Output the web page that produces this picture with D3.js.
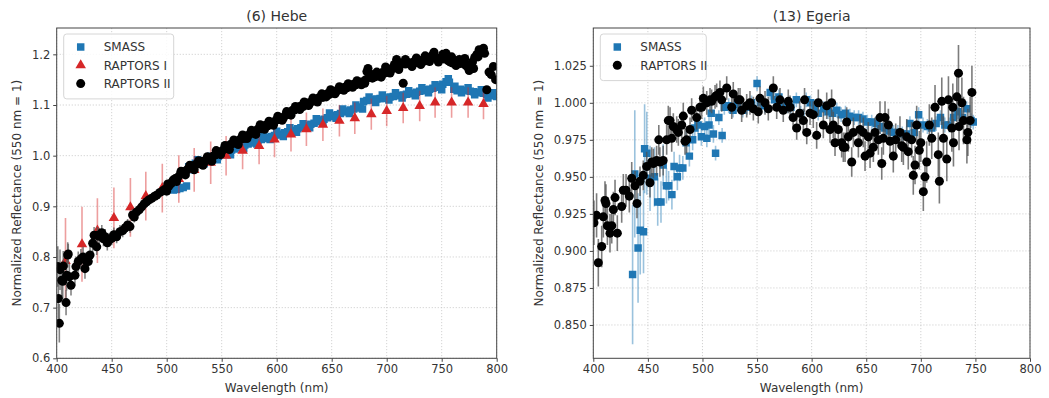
<!DOCTYPE html>
<html>
<head>
<meta charset="utf-8">
<script src="https://cdn.jsdelivr.net/npm/d3@7"></script>
<style>
  body { margin: 0; background: #fff; }
  svg text { font-family: "DejaVu Sans", sans-serif; fill: #333; }
</style>
</head>
<body>
<svg id="chart" width="1049" height="398"></svg>
<script>
// ---- data (wavelength nm, normalized reflectance, error) ----
const xTicks = [400, 450, 500, 550, 600, 650, 700, 750, 800];
const hebeYTicks = [0.6, 0.7, 0.8, 0.9, 1.0, 1.1, 1.2];
const egeriaYTicks = [0.850, 0.875, 0.900, 0.925, 0.950, 0.975, 1.000, 1.025];

const hebeSmass = [
  [506,0.932],[509,0.933],[512,0.935],[515,0.937],[518,0.940],[520,0.978],[523,0.982],[526,0.985],
  [529,0.986],[532,0.988],[535,0.990],[538,0.992],[541,0.994],[544,0.996],[547,0.999],[550,1.002],
  [553,1.005],[556,1.008],[559,1.011],[562,1.013],[565,1.016],[568,1.018],[571,1.021],[574,1.023],
  [577,1.025],[580,1.027],[583,1.030],[586,1.032],[589,1.034],[592,1.036],[595,1.038],[598,1.040],
  [601,1.041],[604,1.043],[607,1.045],[610,1.047],[613,1.049],[616,1.050],[619,1.053],[622,1.055],
  [625,1.057],[628,1.059],[631,1.062],[634,1.064],[637,1.067],[640,1.070],[643,1.072],[646,1.075],
  [649,1.077],[652,1.079],[655,1.081],[658,1.083],[661,1.086],[664,1.088],[667,1.090],[670,1.092],
  [673,1.094],[676,1.096],[679,1.107],[682,1.109],[685,1.110],[688,1.111],[691,1.112],[694,1.113],
  [697,1.113],[700,1.114],[703,1.116],[706,1.117],[709,1.118],[712,1.119],[715,1.120],[718,1.121],
  [721,1.122],[724,1.123],[727,1.125],[730,1.127],[733,1.128],[736,1.130],[739,1.131],[742,1.133],
  [745,1.135],[748,1.137],[751,1.141],[754,1.146],[757,1.145],[761,1.131],[764,1.128],[767,1.131],
  [770,1.129],[773,1.128],[776,1.127],[779,1.126],[782,1.125],[785,1.124],[788,1.123],[791,1.121],
  [794,1.120],[797,1.118],[800,1.117],
  [522,0.972],[528,0.992],[534,0.984],[540,0.999],[546,0.992],[552,1.010],[558,1.002],[564,1.020],
  [570,1.014],[576,1.031],[582,1.023],[588,1.040],[594,1.032],[600,1.048],[606,1.038],[612,1.055],
  [618,1.046],[624,1.063],[630,1.055],[636,1.073],[642,1.066],[648,1.084],[654,1.074],[660,1.092],
  [666,1.083],[672,1.100],[678,1.092],[684,1.116],[690,1.105],[696,1.120],[702,1.110],[708,1.124],
  [714,1.114],[720,1.128],[726,1.118],[732,1.134],[738,1.124],[744,1.140],[750,1.130],[756,1.152],
  [762,1.137],[768,1.124],[774,1.134],[780,1.120],[786,1.130],[792,1.114],[798,1.124]
];

const hebeRaptors1 = [
  [408,0.792,0.085],[423,0.825,0.074],[437,0.852,0.064],[452,0.877,0.060],[467,0.898,0.058],
  [481,0.920,0.048],[496,0.936,0.048],[511,0.954,0.047],[525,0.972,0.043],[540,0.986,0.042],
  [554,1.000,0.039],[569,1.010,0.037],[584,1.019,0.036],[598,1.032,0.035],[613,1.042,0.034],
  [627,1.052,0.033],[642,1.061,0.032],[657,1.069,0.031],[671,1.074,0.031],[686,1.082,0.031],
  [700,1.088,0.030],[715,1.094,0.030],[730,1.098,0.030],[744,1.105,0.030],[759,1.105,0.030],
  [774,1.105,0.030],[788,1.102,0.030]
];

const hebeRaptors2 = [
  [401,0.781,0.040],[401.5,0.718,0.040],[402.4,0.669,0.038],[403,0.775,0.040],[404.5,0.754,0.035],
  [405.5,0.752,0.035],[406,0.782,0.030],[408.5,0.710,0.025],[409,0.764,0.030],[410,0.804,0.025],
  [410.5,0.806,0.020],[411.5,0.761,0.025],[413,0.744,0.020],[416.6,0.764,0.020],[417.5,0.781,0.020],
  [419.6,0.791,0.020],[422,0.796,0.020],[424,0.800,0.020],[425.7,0.777,0.020],[427,0.792,0.018],
  [428.7,0.791,0.018],[430.3,0.804,0.018],[432.7,0.827,0.018],[434,0.843,0.016],[436.4,0.820,0.016],
  [437,0.843,0.016],[438.7,0.841,0.016],[441,0.848,0.015],[442.5,0.836,0.015],[444,0.840,0.015],
  [446,0.828,0.015],[448,0.834,0.014],[450,0.837,0.014],[452,0.844,0.014],[454.5,0.840,0.013],
  [457.5,0.850,0.013],[460,0.852,0.013],[462,0.857,0.012],[464.5,0.863,0.012],[466.6,0.860,0.012],
  [469,0.883,0.012],[470.5,0.879,0.011],[472.7,0.889,0.011],[475,0.893,0.011],[477.3,0.899,0.011],
  [479.6,0.905,0.010],[481.8,0.909,0.010],[484,0.913,0.010],[486.4,0.916,0.010],[489,0.920,0.010],
  [491,0.922,0.010],[493.5,0.927,0.009],[496,0.930,0.009],[498,0.933,0.009],
  [500,0.930],[502,0.940],[504,0.945],[506,0.952],[508,0.955],[510,0.957],[512,0.962],[514,0.966],
  [516,0.968],[518,0.971],[520,0.975],[522,0.978],[524,0.977],[526,0.982],[528,0.984],[530,0.984],
  [532,0.989],[534,0.987],[536,0.991],[538,0.995],[540,0.994],[542,0.999],[544,1.001],[546,1.004],
  [548,1.007],[550,1.008],[552,1.013],[554,1.015],[556,1.017],[558,1.022],[560,1.024],[562,1.027],
  [564,1.026],[566,1.031],[568,1.035],[570,1.034],[572,1.039],[574,1.040],[576,1.043],[578,1.047],
  [580,1.046],[582,1.051],[584,1.054],[586,1.053],[588,1.058],[590,1.060],[592,1.059],[594,1.064],
  [596,1.066],[598,1.067],[600,1.071],[602,1.072],[604,1.075],[606,1.074],[608,1.080],[610,1.082],
  [612,1.085],[614,1.089],[616,1.090],[618,1.094],[620,1.096],[622,1.098],[624,1.097],[626,1.102],
  [628,1.104],[630,1.103],[632,1.108],[634,1.110],[636,1.109],[638,1.114],[640,1.116],[642,1.115],
  [644,1.120],[646,1.122],[648,1.121],[650,1.125],[652,1.127],[654,1.126],[656,1.130],[658,1.131],
  [660,1.133],[662,1.135],[664,1.134],[666,1.138],[668,1.139],[670,1.141],[672,1.140],[674,1.143],
  [676,1.144],[678,1.146],[680,1.143],[682,1.166],[684,1.162],[686,1.158],[688,1.160],[690,1.156],
  [692,1.159],[694,1.161],[696,1.164],[698,1.163],[700,1.168],[702,1.170],[704,1.169],[706,1.174],
  [708,1.176],[709,1.190],[711,1.178],[713,1.180],[715,1.143],[717,1.181],[719,1.184],[721,1.183],
  [723,1.182],[725,1.186],[727,1.184],[729,1.188],[731,1.186],[733,1.189],[735,1.187],[737,1.191],
  [739,1.193],[741,1.197],[742,1.199],[744,1.195],[746,1.192],[748,1.190],[750,1.193],[752,1.191],
  [754,1.202],[756,1.187],[758,1.185],[760,1.183],[762,1.187],[764,1.186],[766,1.190],[768,1.184],
  [770,1.187],[772,1.178],[774,1.174],[776,1.180],[778,1.185],[780,1.194],[782,1.200],[784,1.209],
  [786,1.206],[788,1.212],[789,1.202],[791,1.130],[793,1.165],[795,1.160],[797,1.176],[799,1.150],
  [501,0.944],[505,0.948],[509,0.949],[513,0.969],[517,0.962],[521,0.981],[525,0.972],[529,0.990],
  [533,0.981],[537,0.998],[541,0.989],[545,1.010],[549,1.002],[553,1.020],[557,1.012],[561,1.031],
  [565,1.022],[569,1.041],[573,1.034],[577,1.050],[581,1.042],[585,1.061],[589,1.052],[593,1.068],
  [597,1.060],[601,1.078],[605,1.070],[609,1.087],[613,1.080],[617,1.097],[621,1.091],[625,1.106],
  [629,1.099],[633,1.114],[637,1.106],[641,1.122],[645,1.116],[649,1.130],[653,1.122],[657,1.136],
  [661,1.129],[665,1.142],[669,1.135],[673,1.148],[677,1.140],[681,1.150],
  [683,1.172],[687,1.153],[691,1.165],[695,1.155],[699,1.175],[703,1.163],[707,1.180],[711,1.170],
  [717,1.190],[723,1.176],[727,1.193],[731,1.180],[735,1.197],[739,1.186],[743,1.204],[747,1.185],
  [751,1.200],[755,1.190],[759,1.195],[763,1.178],[767,1.182],[771,1.192],[775,1.168],[779,1.172],
  [783,1.195]
];

const egeriaSmass = [
  [436,0.884,0.047],[438,0.952,0.043],[441,0.902,0.037],[443,0.914,0.030],[446,0.913,0.028],
  [447,0.969,0.030],[449,0.966,0.028],[452,0.949,0.022],[456,0.950,0.020],[459,0.933,0.016],
  [462,0.933,0.014],[464,0.958,0.014],[467,0.944,0.012],[469,0.944,0.010],[472,0.938,0.010],
  [474,0.957,0.010],[477,0.950,0.009],[479,0.956,0.009],[482,0.956,0.008],[485,0.973,0.008],
  [488,0.964,0.007],[491,0.975,0.007],[493,0.983,0.007],[496,0.985,0.006],[499,0.977,0.006],
  [502,0.984,0.006],[504,0.976,0.006],[506,0.985,0.006],[508,0.993,0.006],[510,0.979,0.006],
  [512,0.966,0.005],[515,0.990,0.005],[518,0.978,0.005],[520,0.997,0.005],[524,0.998,0.005],
  [528,0.995,0.005],[532,0.999,0.005],[537,0.995,0.005],[541,0.997,0.005],[545,1.000,0.005],
  [550,1.013,0.005],[553,1.000,0.005],[557,0.998,0.005],[562,1.007,0.005],[566,1.002,0.005],
  [570,1.004,0.005],[574,0.999,0.005],[578,0.998,0.005],[581,0.997,0.005],[586,1.002,0.005],
  [590,0.993,0.005],[595,1.002,0.005],[599,1.000,0.005],[603,0.996,0.005],[606,0.993,0.005],
  [611,0.996,0.005],[615,0.994,0.005],[619,0.993,0.005],[623,0.995,0.005],[627,0.992,0.005],
  [631,0.993,0.005],[635,0.991,0.005],[639,0.990,0.005],[643,0.990,0.005],[647,0.989,0.005],
  [651,0.987,0.005],[655,0.987,0.005],[659,0.986,0.005],[663,0.984,0.005],[667,0.983,0.005],
  [671,0.981,0.005],[675,0.980,0.005],[679,0.980,0.005],[683,0.979,0.005],[687,0.979,0.005],
  [690,0.986,0.005],[694,0.980,0.005],[698,0.992,0.005],[702,0.985,0.005],[706,0.984,0.005],
  [710,0.983,0.005],[714,0.986,0.005],[718,0.990,0.005],[722,0.985,0.005],[726,0.985,0.005],
  [730,0.990,0.005],[734,0.994,0.005],[738,0.990,0.005],[742,0.996,0.005],[746,0.988,0.005],
  [748,0.987,0.005]
];

const egeriaRaptors2 = [
  [400.6,0.919,0.015],[403,0.924,0.015],[404.6,0.892,0.016],[407.7,0.903,0.014],[409.2,0.923,0.014],
  [410.7,0.934,0.013],[411.6,0.932,0.013],[412.9,0.917,0.013],[415.3,0.912,0.013],[416.9,0.917,0.012],
  [418.4,0.928,0.012],[419.9,0.936,0.012],[422,0.912,0.012],[426,0.930,0.011],[427.5,0.941,0.011],
  [430,0.941,0.011],[433,0.937,0.011],[435.2,0.949,0.011],[438.2,0.944,0.010],[440,0.932,0.010],
  [442.8,0.947,0.010],[445.8,0.951,0.010],[448.9,0.957,0.010],[451.9,0.946,0.010],[453.5,0.960,0.010],
  [455,0.959,0.010],[458,0.961,0.010],[460,0.975,0.010],[461,0.960,0.010],[464,0.961,0.010],
  [467.2,0.975,0.010],[468.7,0.988,0.010],[470.3,0.988,0.009],[471.8,0.976,0.009],[473.3,0.984,0.009],
  [476.4,0.982,0.009],[477.9,0.980,0.009],[481,0.985,0.009],[482.4,0.991,0.009],[484,0.974,0.009],
  [485.5,0.975,0.009],[488.6,0.982,0.008],[490.1,0.995,0.008],[494.7,0.990,0.008],[497.7,0.997,0.008],
  [499.3,0.997,0.008],[500.8,1.003,0.008],[503.9,1.000,0.008],[506.9,1.002,0.008],[508.4,1.001,0.008],
  [511.5,1.004,0.008],[513,1.005,0.008],[516,1.007,0.008],[517.6,1.002,0.008],[522.2,1.010,0.008],
  [526.8,0.997,0.008],[528.2,1.006,0.008],[532.8,1.002,0.008],[534.4,1.002,0.008],[535.9,0.995,0.008],
  [540.5,0.998,0.008],[543.5,1.000,0.008],[546.6,0.996,0.008],[551.1,0.994,0.008],[552.7,1.003,0.008],
  [557.3,1.000,0.008],[560.3,0.996,0.008],[564.9,1.010,0.008],[568,0.997,0.008],[571,1.002,0.008],
  [574,0.995,0.008],[578.6,1.001,0.008],[580.2,0.997,0.008],[583,0.990,0.008],[586.3,0.983,0.008],
  [589,0.993,0.008],[592.4,0.988,0.008],[593.5,1.002,0.008],[595.5,0.980,0.008],[598.5,0.993,0.008],
  [601.5,0.992,0.009],[604.6,0.978,0.009],[606.1,1.000,0.009],[610.7,0.985,0.009],[613.8,0.998,0.009],
  [616.8,0.982,0.009],[618.3,1.000,0.009],[619.8,0.985,0.009],[621.4,0.973,0.009],[624.4,0.982,0.009],
  [627.5,0.973,0.010],[629,0.970,0.010],[630.6,0.970,0.010],[632.1,0.987,0.010],[633.6,0.977,0.010],
  [636.7,0.960,0.010],[638.2,0.980,0.010],[642.8,0.973,0.010],[644.3,0.982,0.010],[647.3,0.980,0.010],
  [648.9,0.964,0.010],[651.9,0.977,0.010],[653.5,0.966,0.010],[656.5,0.970,0.010],[658,0.980,0.010],
  [661.1,0.975,0.010],[662.6,0.990,0.011],[664.2,0.959,0.011],[665.7,0.976,0.011],[667.2,0.990,0.011],
  [670.3,0.985,0.011],[671.8,0.974,0.011],[674.8,0.964,0.011],[677,0.975,0.011],[680.9,0.980,0.011],
  [682.5,0.971,0.011],[684,0.970,0.012],[687.1,0.977,0.012],[688.5,0.967,0.012],[691.6,0.975,0.012],
  [693.1,0.951,0.013],[694.7,0.958,0.013],[696.2,0.985,0.013],[698.6,0.968,0.013],[700,0.973,0.013],
  [702.3,0.940,0.013],[703.8,0.950,0.013],[705.4,0.960,0.014],[707.8,0.985,0.014],[710,0.976,0.014],
  [713,0.997,0.015],[716,0.965,0.015],[717,0.947,0.015],[719.2,1.001,0.016],[720.7,0.976,0.015],
  [723.8,0.962,0.015],[725.3,1.002,0.016],[728.4,0.983,0.016],[729.3,0.997,0.016],[729.9,0.973,0.016],
  [733,1.004,0.017],[734.5,1.020,0.019],[735,0.984,0.016],[737.6,1.000,0.017],[739.1,0.988,0.016],
  [742.2,0.975,0.016],[743.1,0.980,0.016],[745.2,0.988,0.016],[746.8,1.007,0.018]
];

// ---- layout ----
const svg = d3.select("#chart");
const plotTop = 28, plotH = 330.3;
const blue = "#1f77b4", red = "#d62728";

const sym = {
  square: d3.symbol(d3.symbolSquare, 56)(),
  triangle: d3.symbol(d3.symbolTriangle, 48)(),
  circle: d3.symbol(d3.symbolCircle, 64)()
};

function drawPanel(cfg) {
  const w = cfg.width;
  const g = svg.append("g").attr("transform", `translate(${cfg.left},${plotTop})`);
  const x = d3.scaleLinear().domain([400, 800]).range([0, w]);
  const y = d3.scaleLinear().domain(cfg.yDomain).range([plotH, 0]);

  // grid
  const grid = g.append("g").attr("stroke", "#c6c6c6").attr("stroke-width", 0.8)
    .attr("stroke-dasharray", "1.2,1.8");
  grid.selectAll(".gx").data(xTicks).join("line")
    .attr("x1", d => x(d)).attr("x2", d => x(d)).attr("y1", 0).attr("y2", plotH);
  grid.selectAll(".gy").data(cfg.yTicks).join("line")
    .attr("y1", d => y(d)).attr("y2", d => y(d)).attr("x1", 0).attr("x2", w);

  // clip
  const clipId = "clip" + Math.round(cfg.left);
  g.append("clipPath").attr("id", clipId).append("rect").attr("width", w).attr("height", plotH);
  const plot = g.append("g").attr("clip-path", `url(#${clipId})`);

  cfg.series.forEach(s => {
    plot.append("g").selectAll("line").data(s.data.filter(d => d[2])).join("line")
      .attr("x1", d => x(d[0])).attr("x2", d => x(d[0]))
      .attr("y1", d => y(d[1] - d[2])).attr("y2", d => y(d[1] + d[2]))
      .attr("stroke", s.errColor).attr("stroke-width", 1.6);
    plot.append("g").selectAll("path").data(s.data).join("path")
      .attr("transform", d => `translate(${x(d[0])},${y(d[1])})`)
      .attr("d", sym[s.symbol]).attr("fill", s.color);
  });

  // axes
  const ax = g.append("g").attr("transform", `translate(0,${plotH})`)
    .call(d3.axisBottom(x).tickValues(xTicks).tickSize(3.5).tickPadding(3).tickFormat(d3.format("d")));
  const ay = g.append("g")
    .call(d3.axisLeft(y).tickValues(cfg.yTicks).tickSize(3.5).tickPadding(3).tickFormat(d3.format(cfg.yFormat)));
  [ax, ay].forEach(a => {
    a.select(".domain").remove();
    a.selectAll("line").attr("stroke", "#444");
    a.selectAll("text").attr("font-size", 11.5).attr("fill", "#333")
      .style("font-family", '"DejaVu Sans", sans-serif');
  });

  // frame
  g.append("rect").attr("width", w).attr("height", plotH)
    .attr("fill", "none").attr("stroke", "#444").attr("stroke-width", 1);

  // texts
  g.append("text").attr("x", w / 2).attr("y", -7).attr("text-anchor", "middle")
    .attr("font-size", 14).text(cfg.title);
  g.append("text").attr("x", w / 2).attr("y", plotH + 34).attr("text-anchor", "middle")
    .attr("font-size", 12).text("Wavelength (nm)");
  g.append("text").attr("transform", `translate(${cfg.yLabelX},${plotH / 2}) rotate(-90)`)
    .attr("text-anchor", "middle").attr("dy", "0.35em").attr("font-size", 12)
    .text("Normalized Reflectance (550 nm = 1)");

  // legend
  const lg = g.append("g").attr("transform", "translate(7,6)");
  lg.append("rect").attr("width", cfg.legendW).attr("height", 10 + cfg.series.length * 18.3)
    .attr("rx", 3).attr("fill", "#fff").attr("fill-opacity", 0.85)
    .attr("stroke", "#d6d6d6");
  cfg.series.forEach((s, i) => {
    const row = lg.append("g").attr("transform", `translate(0,${13 + i * 18.3})`);
    row.append("path").attr("transform", "translate(17,0)").attr("d", sym[s.symbol]).attr("fill", s.color);
    row.append("text").attr("x", 40).attr("dy", "0.35em").attr("font-size", 12).text(s.name);
  });
}

drawPanel({
  left: 56.7, width: 440, yDomain: [0.6, 1.252], yTicks: hebeYTicks, yFormat: ".1f",
  title: "(6) Hebe", yLabelX: -40, legendW: 110,
  series: [
    { name: "SMASS", data: hebeSmass, symbol: "square", color: blue, errColor: "#8fbbd9" },
    { name: "RAPTORS I", data: hebeRaptors1, symbol: "triangle", color: red, errColor: "rgba(214,39,40,0.45)" },
    { name: "RAPTORS II", data: hebeRaptors2, symbol: "circle", color: "#000", errColor: "rgba(90,90,90,0.75)" }
  ]
});

drawPanel({
  left: 593.3, width: 436.7, yDomain: [0.8275, 1.0505], yTicks: egeriaYTicks, yFormat: ".3f",
  title: "(13) Egeria", yLabelX: -55, legendW: 106,
  series: [
    { name: "SMASS", data: egeriaSmass, symbol: "square", color: blue, errColor: "rgba(31,119,180,0.45)" },
    { name: "RAPTORS II", data: egeriaRaptors2, symbol: "circle", color: "#000", errColor: "rgba(80,80,80,0.75)" }
  ]
});
</script>
</body>
</html>
